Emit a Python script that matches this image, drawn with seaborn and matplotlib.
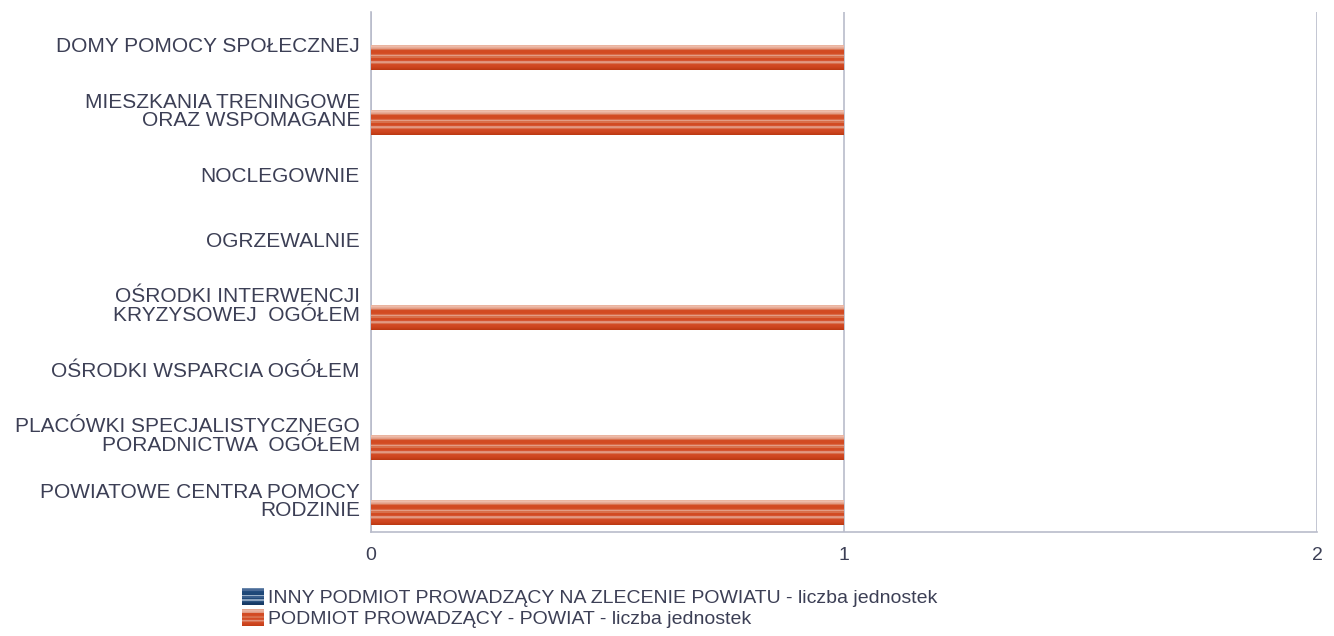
import numpy as np
import pandas as pd
import seaborn as sns
import matplotlib.pyplot as plt
from matplotlib.colors import to_rgb
from matplotlib.patches import Rectangle
from matplotlib.legend_handler import HandlerBase

categories = [
    "DOMY POMOCY SPOŁECZNEJ",
    "MIESZKANIA TRENINGOWE\nORAZ WSPOMAGANE",
    "NOCLEGOWNIE",
    "OGRZEWALNIE",
    "OŚRODKI INTERWENCJI\nKRYZYSOWEJ  OGÓŁEM",
    "OŚRODKI WSPARCIA OGÓŁEM",
    "PLACÓWKI SPECJALISTYCZNEGO\nPORADNICTWA  OGÓŁEM",
    "POWIATOWE CENTRA POMOCY\nRODZINIE",
]
series = [
    "INNY PODMIOT PROWADZĄCY NA ZLECENIE POWIATU - liczba jednostek",
    "PODMIOT PROWADZĄCY - POWIAT - liczba jednostek",
]
inny_values = [0, 0, 0, 0, 0, 0, 0, 0]
powiat_values = [1, 1, 0, 0, 1, 0, 1, 1]
x_ticks = [0, 1, 2]

# stripe shading (top -> bottom) used to mimic the glossy bar fill
orange_stripes = ["#e4a892", "#eab4a0", "#eebcaa", "#e8ac98", "#e29c84", "#da7452",
                  "#d24c24", "#d24a22", "#d24a22", "#d44e26", "#d86a48", "#e49c84",
                  "#d8704c", "#d24c24", "#d24a22", "#d45430", "#e0907a", "#e29a82",
                  "#d87050", "#d24c26", "#d04822", "#ce4620", "#ca421c", "#c43e18",
                  "#bc3a14"]
blue_stripes = ["#6a88ac", "#4a6a96", "#234c7e", "#1f4878", "#1e4676", "#9ab0c8",
                "#3a5e8c", "#1f4878", "#8aa2be", "#2a527e", "#1c4270", "#163a64"]

df = pd.DataFrame({
    "kategoria": categories * 2,
    "wartosc": inny_values + powiat_values,
    "seria": [series[0]] * len(categories) + [series[1]] * len(categories),
})

sns.set_theme(style="white")
plt.rcParams["font.family"] = ["Liberation Sans", "DejaVu Sans"]
text_col = "#3c3f55"
grid_col = "#b9bccb"

fig = plt.figure(figsize=(13.34, 6.36), dpi=100)
ax = fig.add_axes([371 / 1334, 1 - 532 / 636, 946 / 1334, 520 / 636])

sns.barplot(data=df, y="kategoria", x="wartosc", hue="seria", orient="h",
            palette=["#1f4878", "#d24a22"], width=0.78, ax=ax, legend=False,
            saturation=1, linewidth=0)

xlim = (0, 2)
ylim = ax.get_ylim()

# glossy stripe fill clipped to each bar
for patch in ax.patches:
    x0, y0 = patch.get_x(), patch.get_y()
    w, h = patch.get_width(), patch.get_height()
    if w <= 0:
        continue
    grad = np.array([[to_rgb(c)] for c in orange_stripes])
    im = ax.imshow(grad, extent=[x0, x0 + w, y0 + h, y0], origin="upper",
                   aspect="auto", interpolation="nearest", zorder=3)
    im.set_clip_path(patch)

ax.set_xlim(*xlim)
ax.set_ylim(*ylim)
ax.set_xticks(x_ticks)
ax.set_xticklabels([str(t) for t in x_ticks])
ax.set_xlabel("")
ax.set_ylabel("")
ax.grid(axis="x", color=grid_col, linewidth=1.2)
ax.grid(axis="y", visible=False)
ax.set_axisbelow(True)
for side in ["top", "right"]:
    ax.spines[side].set_visible(False)
for side in ["left", "bottom"]:
    ax.spines[side].set_color(grid_col)
    ax.spines[side].set_linewidth(1.2)
ax.tick_params(axis="y", length=0, pad=8, labelsize=15, labelcolor=text_col)
ax.tick_params(axis="x", length=0, pad=11, labelsize=14, labelcolor=text_col)
for lab in ax.get_yticklabels():
    lab.set_horizontalalignment("right")
    lab.set_multialignment("right")
    lab.set_linespacing(0.98)


class StripeHandler(HandlerBase):
    def __init__(self, colors):
        super().__init__()
        self.colors = colors

    def create_artists(self, legend, orig_handle, xdescent, ydescent, width,
                       height, fontsize, trans):
        n = len(self.colors)
        artists = []
        for i, c in enumerate(self.colors):
            r = Rectangle((-xdescent, -ydescent + height * (n - 1 - i) / n),
                          width, height / n, facecolor=c, edgecolor="none",
                          transform=trans)
            artists.append(r)
        return artists


h_blue = Rectangle((0, 0), 1, 1)
h_orange = Rectangle((0, 0), 1, 1)
leg = fig.legend([h_blue, h_orange], series, loc="upper left",
                 bbox_to_anchor=(242 / 1334, 1 - 588 / 636), frameon=False,
                 fontsize=14, labelcolor=text_col, handlelength=1.15,
                 handleheight=0.95, handletextpad=0.2, labelspacing=0.12,
                 borderaxespad=0, borderpad=0,
                 handler_map={h_blue: StripeHandler(blue_stripes),
                              h_orange: StripeHandler(orange_stripes)})

fig.savefig("out.png", dpi=100)
